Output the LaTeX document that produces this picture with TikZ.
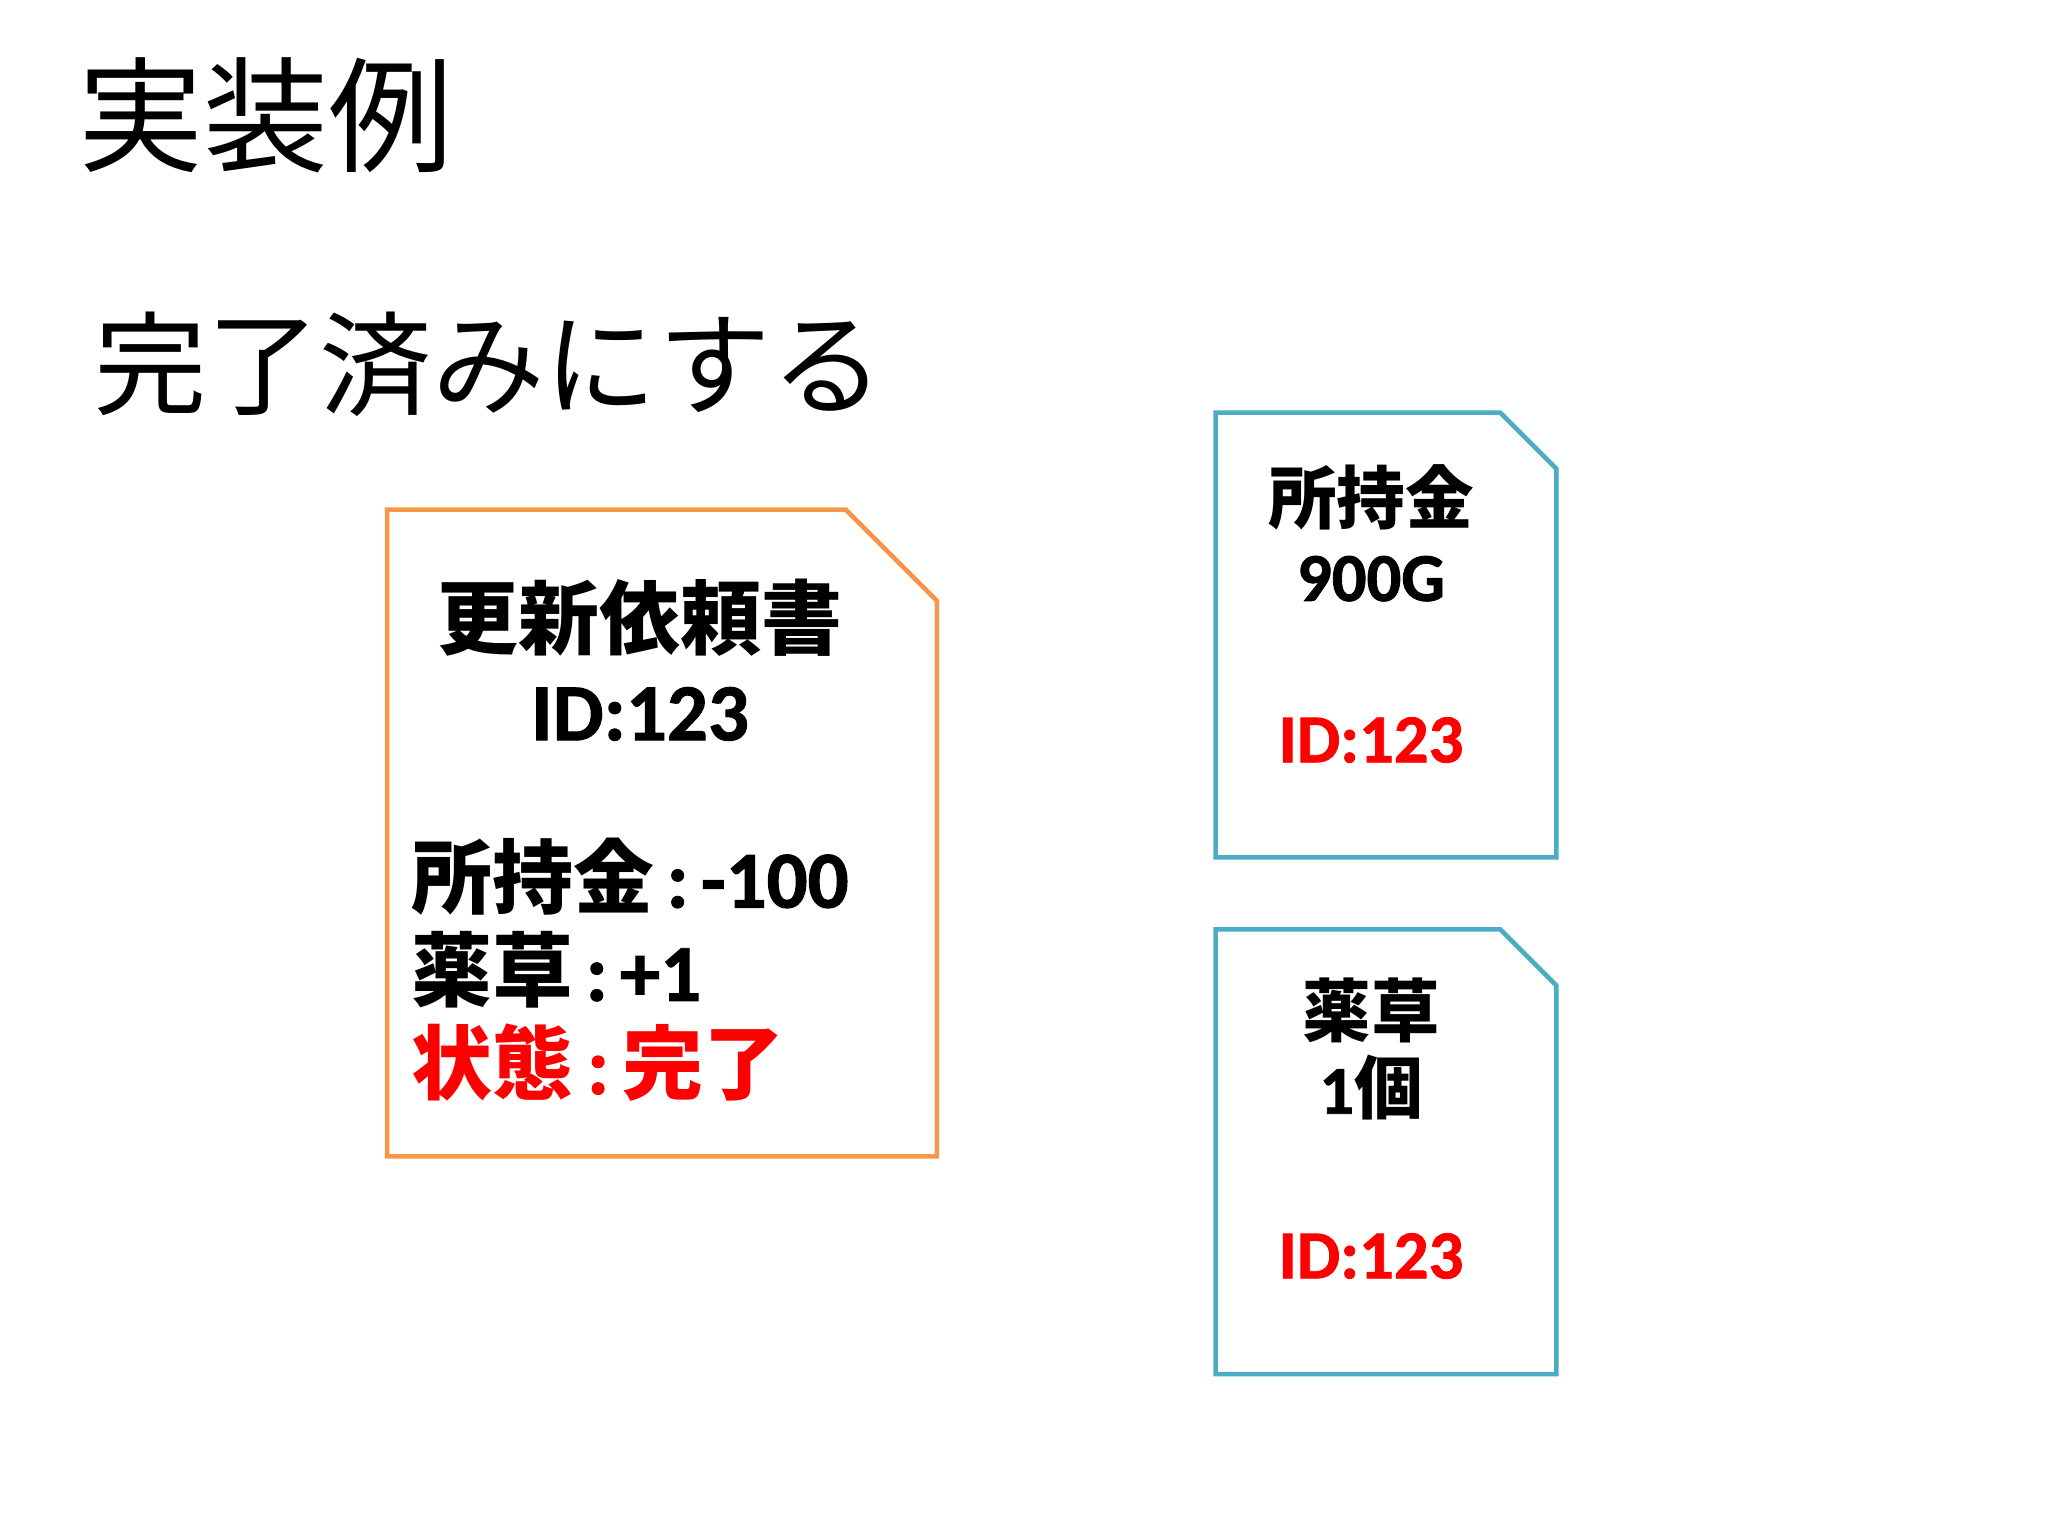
\documentclass[tikz,border=0pt]{standalone}
\usepackage{fontspec}
\setmainfont{Carlito}[BoldFont={Carlito Bold}, BoldFeatures={FakeBold=1.2}]
\newfontfamily\cjk{Noto Sans CJK JP}
\usetikzlibrary{positioning}
\definecolor{sheetorange}{HTML}{F79646}
\definecolor{sheetblue}{HTML}{4BACC6}
\definecolor{idred}{HTML}{FF0000}
\newcommand{\gap}{\hspace{0.15em}}
\tikzset{
    heading/.style ={inner sep=0pt, anchor=west},
    sheet/.style ={rectangle, inner sep=0pt},
    fold/.style ={line width=1.3pt, line join=miter},
    bigtext/.style ={inner sep=0pt, font=\bfseries\fontsize{23}{26}\selectfont},
    smalltext/.style ={inner sep=0pt, align=center, font=\bfseries\fontsize{19.5}{22}\selectfont}
}

\begin{document}
\begin{tikzpicture}[x=0.01cm,y=-0.01cm]
\useasboundingbox (0,0) rectangle (2048,1536);
\node[heading, font=\cjk\fontsize{35.5}{40}\selectfont](t) at (78,115){実装例};
\node[heading, font=\cjk\fontsize{32}{36}\selectfont](s) at (94,364){完了済みにする};
% request sheet and two stock sheets
\node[sheet, minimum width=5.48cm, minimum height=6.45cm](1) at (662,833){};
\node[sheet, minimum width=3.39cm, minimum height=4.43cm](2) at (1386,635){};
\node[sheet, minimum width=3.39cm, minimum height=4.43cm](3)[below=0.72cm of 2]{};
\draw[fold, sheetorange](1.south west) -- (1.north west) -- ([xshift=-0.91cm]1.north east) -- ([yshift=-0.91cm]1.north east) -- (1.south east) -- cycle;
\draw[fold, sheetblue](2.south west) -- (2.north west) -- ([xshift=-0.56cm]2.north east) -- ([yshift=-0.56cm]2.north east) -- (2.south east) -- cycle;
\draw[fold, sheetblue](3.south west) -- (3.north west) -- ([xshift=-0.56cm]3.north east) -- ([yshift=-0.56cm]3.north east) -- (3.south east) -- cycle;
% texts
\node[bigtext, align=center](4) at (640,660){{\cjk 更新依頼書}\\ID:123};
\node[bigtext, align=left, anchor=west, font=\bfseries\fontsize{23}{26.5}\selectfont](5) at (411,970){{\cjk 所持金}\gap:\gap-100\\{\cjk 薬草}\gap:\gap+1\\\textcolor{idred}{{\cjk 状態}\,:\,{\cjk 完了}}};
\node[smalltext](6) at (1371,533){{\cjk 所持金}\\900G};
\node[smalltext, text=idred](7) at (1371,740){ID:123};
\node[smalltext](8) at (1371,1049){{\cjk 薬草}\\1{\cjk 個}};
\node[smalltext, text=idred](9) at (1371,1256){ID:123};
\end{tikzpicture}
\end{document}
